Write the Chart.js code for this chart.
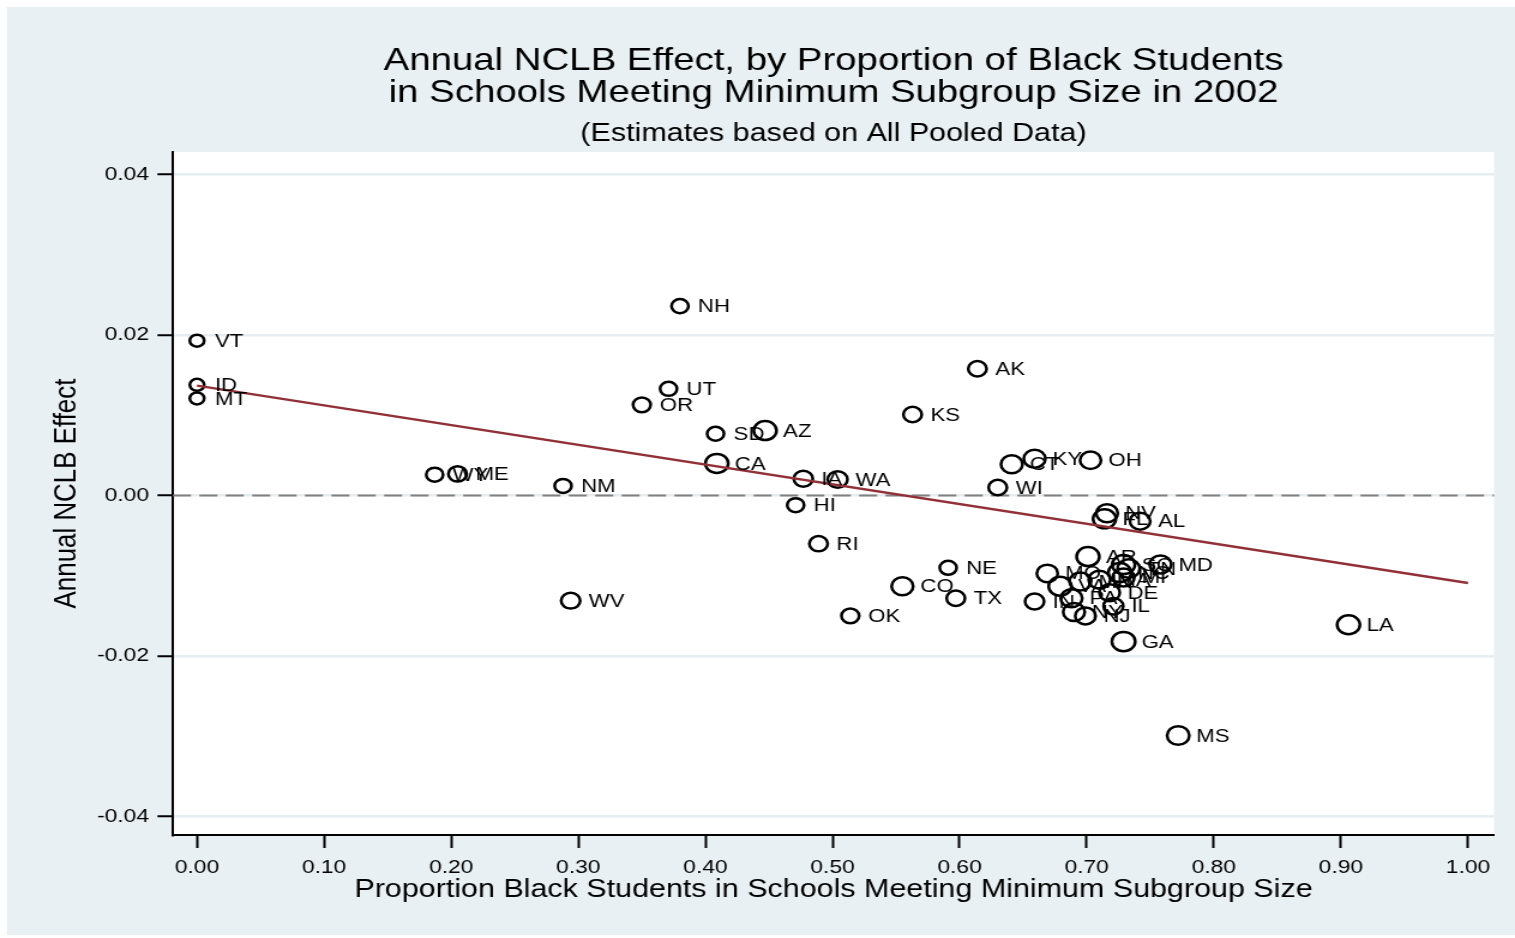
<!DOCTYPE html>
<html>
<head>
<meta charset="utf-8">
<script src="https://cdn.jsdelivr.net/npm/chart.js@4.4.1/dist/chart.umd.min.js"></script>
<style>
html,body{margin:0;padding:0;background:#fff;overflow:hidden;}
#wrap{width:1515px;height:938px;overflow:hidden;position:relative;}
#c{position:absolute;left:0;top:0;transform-origin:0 0;}
</style>
</head>
<body>
<div id="wrap"><canvas id="c"></canvas></div>
<script>
// ---------------- DATA ----------------
const states = ["VT","ID","MT","NH","UT","OR","SD","AZ","CA","IA","WA","HI","RI","WY","ME","NM","WV","OK","CO","NE","TX","KS","AK","WI","CT","KY","OH","NV","FL","AL","MD","LA","GA","MS",
                "AR","MO","SC","TN","NC","MI","MA","VA","MN","PA","IN","DE","IL","NY","NJ"];
const propBlack = [0.000,0.000,0.000,0.380,0.371,0.350,0.408,0.447,0.409,0.477,0.504,0.471,0.489,0.187,0.205,0.288,0.294,0.514,0.555,0.591,0.597,0.563,0.614,0.630,0.641,0.659,0.703,0.716,0.714,0.742,0.758,0.906,0.729,0.772,
                   0.701,0.669,0.729,0.733,0.726,0.729,0.710,0.679,0.695,0.688,0.659,0.718,0.721,0.690,0.699];
const nclbEffect = [0.0193,0.0138,0.0121,0.0236,0.0133,0.0113,0.0077,0.0081,0.0040,0.0021,0.0020,-0.0012,-0.0060,0.0026,0.0027,0.0012,-0.0131,-0.0150,-0.0113,-0.0090,-0.0128,0.0101,0.0158,0.0010,0.0039,0.0046,0.0044,-0.0022,-0.0029,-0.0032,-0.0086,-0.0161,-0.0182,-0.0299,
                    -0.0076,-0.0097,-0.0086,-0.0091,-0.0096,-0.0102,-0.0105,-0.0113,-0.0107,-0.0128,-0.0132,-0.0121,-0.0138,-0.0145,-0.0150];
const weights = [4,4,4,5.5,5.5,6,5.5,10,10,7,7.5,5.5,6.5,5.5,6.5,5.5,7,6,9,5.5,6.5,6.5,6.5,6.5,9,9,8.5,9,10,8,9,10,10.5,9.5,
                 10,8.5,10,9.5,10,9,9,10,9,9,7,8,7.5,9,8];
const fitX = [0, 1];
const fitY = [0.0137, -0.0109];
const xTicks = [0,0.1,0.2,0.3,0.4,0.5,0.6,0.7,0.8,0.9,1.0];
const yTicks = [-0.04,-0.02,0,0.02,0.04];
const titleLines = ["Annual NCLB Effect, by Proportion of Black Students","in Schools Meeting Minimum Subgroup Size in 2002"];
const subtitle = "(Estimates based on All Pooled Data)";
const xTitle = "Proportion Black Students in Schools Meeting Minimum Subgroup Size";
const yTitle = "Annual NCLB Effect";

// ---------------- LAYOUT ----------------
const H = 938;
const W = 1263;               // logical width, stretched horizontally to 1515
const S = 1515 / W;
const FONT = "'Liberation Sans', Arial, Helvetica, sans-serif";
const BG = '#e9f0f3';
const GRID = '#e5edf0';

const canvas = document.getElementById('c');
canvas.width = W; canvas.height = H;
canvas.style.width = W + 'px'; canvas.style.height = H + 'px';
canvas.style.transform = 'scaleX(' + S + ')';

const plotLeft = 173 / S, plotRight = 1494 / S, plotTop = 152, plotBottom = 835;

const bgPlugin = {
  id: 'bg',
  beforeDraw(chart) {
    const ctx = chart.ctx, a = chart.chartArea;
    ctx.save();
    ctx.fillStyle = '#fff'; ctx.fillRect(0, 0, W, H);
    ctx.fillStyle = BG; ctx.fillRect(7 / S, 7, W, 935 - 7);
    ctx.fillStyle = '#fff'; ctx.fillRect(a.left, a.top, a.right - a.left, a.bottom - a.top);
    ctx.restore();
  },
  beforeDatasetsDraw(chart) {
    const ctx = chart.ctx, a = chart.chartArea;
    const y0 = chart.scales.y.getPixelForValue(0);
    ctx.save();
    ctx.strokeStyle = '#808080'; ctx.lineWidth = 2;
    ctx.setLineDash([15, 7]);
    ctx.beginPath(); ctx.moveTo(a.left, y0); ctx.lineTo(a.right, y0); ctx.stroke();
    ctx.restore();
  },
  afterDatasetsDraw(chart) {
    const ctx = chart.ctx;
    const meta = chart.getDatasetMeta(0);
    ctx.save();
    ctx.fillStyle = '#000';
    ctx.font = '18.5px ' + FONT;
    ctx.textAlign = 'left'; ctx.textBaseline = 'middle';
    meta.data.forEach((el, i) => { ctx.fillText(states[i], el.x + 15, el.y + 1); });
    // titles
    const a = chart.chartArea;
    const cx = (a.left + a.right) / 2;
    ctx.textAlign = 'center';
    ctx.font = '32px ' + FONT;
    ctx.fillText(titleLines[0], cx, 61);
    ctx.fillText(titleLines[1], cx, 93);
    ctx.font = '25.4px ' + FONT;
    ctx.fillText(subtitle, cx, 134);
    ctx.restore();
  }
};

const scatterData = propBlack.map((x, i) => ({ x: x, y: nclbEffect[i] }));
const fitData = fitX.map((x, i) => ({ x: x, y: fitY[i] }));

new Chart(canvas, {
  type: 'scatter',
  data: {
    datasets: [
      {
        data: scatterData,
        pointStyle: 'circle',
        pointRadius: weights.map(w => 3 * Math.sqrt(w)),
        pointBackgroundColor: 'rgba(0,0,0,0)',
        pointBorderColor: '#000',
        pointBorderWidth: 2.5,
        order: 2
      },
      {
        type: 'line',
        data: fitData,
        borderColor: '#923038',
        borderWidth: 2.5,
        pointRadius: 0,
        fill: false,
        order: 1
      }
    ]
  },
  options: {
    responsive: false,
    animation: false,
    events: [],
    devicePixelRatio: 1,
    layout: { padding: { left: 0, top: plotTop, right: W - plotRight, bottom: H - plotBottom - 100 } },
    plugins: { legend: { display: false }, tooltip: { enabled: false }, title: { display: false } },
    scales: {
      x: {
        type: 'linear',
        min: -0.01888, max: 1.02046,
        afterBuildTicks(scale) { scale.ticks = xTicks.map(v => ({ value: v })); },
        afterFit(scale) { scale.height = 100; },
        grid: { drawOnChartArea: false, drawTicks: true, tickLength: 13, tickColor: '#000', tickWidth: 2 },
        border: { display: true, color: '#000', width: 2 },
        ticks: { color: '#000', font: { family: FONT, size: 19 }, padding: 8, maxRotation: 0, autoSkip: false,
                 callback: v => Number(v).toFixed(2) },
        title: { display: true, text: xTitle, color: '#000', font: { family: FONT, size: 25.4 }, padding: { top: 0, bottom: 30 } }
      },
      y: {
        type: 'linear',
        min: -0.04230, max: 0.04281,
        afterBuildTicks(scale) { scale.ticks = yTicks.map(v => ({ value: v })); },
        afterFit(scale) { scale.width = plotLeft; },
        grid: { color: GRID, lineWidth: 2.5, drawTicks: true, tickLength: 13, tickColor: '#000', tickWidth: 2 },
        border: { display: true, color: '#000', width: 2 },
        ticks: { color: '#000', font: { family: FONT, size: 19 }, padding: 7, autoSkip: false,
                 callback: v => Number(v).toFixed(2) },
        title: { display: true, text: yTitle, color: '#000', font: { family: FONT, size: 25.9 }, padding: { top: 40.5, bottom: 0 } }
      }
    }
  },
  plugins: [bgPlugin]
});
</script>
</body>
</html>
